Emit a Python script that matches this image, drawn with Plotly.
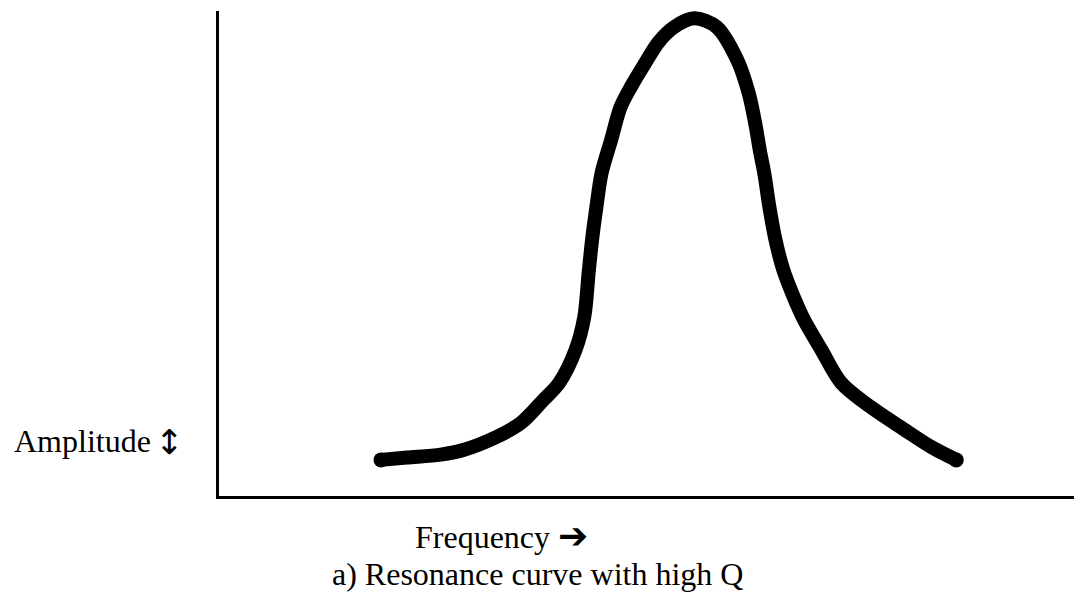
import plotly.graph_objects as go

# Resonance curve (frequency in arbitrary units, amplitude in arbitrary units)
frequency = [1.85, 2.15, 2.54, 2.81, 3.19, 3.47, 3.73, 3.91, 4.10, 4.20, 4.25, 4.29, 4.34,
             4.40, 4.51, 4.62, 4.75, 4.89, 5.06, 5.24, 5.47, 5.73, 5.97, 6.10, 6.18, 6.23,
             6.28, 6.34, 6.41, 6.50, 6.61, 6.74, 6.94, 7.17, 7.51, 7.90, 8.21, 8.50]
amplitude = [0.68, 0.73, 0.79, 0.89, 1.16, 1.45, 1.93, 2.28, 2.97, 3.65, 4.56, 5.25, 5.93,
             6.64, 7.32, 8.01, 8.46, 8.88, 9.36, 9.67, 9.85, 9.67, 8.98, 8.30, 7.63, 7.10,
             6.64, 5.93, 5.25, 4.63, 4.11, 3.59, 2.97, 2.28, 1.78, 1.31, 0.95, 0.68]

y_label = "Amplitude"
y_arrow = "↕"
x_label = "Frequency"
x_arrow = "➔"
caption = "a) Resonance curve with high Q"

fig = go.Figure()
fig.add_trace(go.Scatter(
    x=frequency, y=amplitude, mode="lines",
    line=dict(color="black", width=14, shape="spline", smoothing=0.9),
    hoverinfo="skip", showlegend=False,
))
# round end caps
fig.add_trace(go.Scatter(
    x=[frequency[0], frequency[-1]], y=[amplitude[0], amplitude[-1]], mode="markers",
    marker=dict(color="black", size=15), hoverinfo="skip", showlegend=False,
))

FONT = "Liberation Serif, Times New Roman, serif"

# page body has an 8px margin: figure is sized so it fills the window exactly
W, H = 1074, 586
L, T, B = 211, 3, 97.5
pw, ph = W - L, H - T - B


def px(sx):
    return (sx - 8 - L) / pw


def py(sy):
    return (H - B - (sy - 8)) / ph


x_text = (x_label + " <span style='font-family:DejaVu Sans;font-size:36px'>"
          + x_arrow + "</span>")

fig.update_layout(
    width=W, height=H,
    margin=dict(l=L, r=0, t=T, b=B, pad=0),
    paper_bgcolor="white", plot_bgcolor="white",
    xaxis=dict(range=[-0.023, -0.023 + pw / 86.5], showgrid=False, zeroline=False,
               showticklabels=False, ticks="", showline=True, linecolor="black",
               linewidth=3, mirror=False, fixedrange=True),
    yaxis=dict(range=[-0.07, -0.07 + ph / 48.2], showgrid=False, zeroline=False,
               showticklabels=False, ticks="", showline=True, linecolor="black",
               linewidth=3, mirror=False, fixedrange=True),
    annotations=[
        dict(text=y_label, xref="paper", yref="paper", x=px(12), y=py(441),
             xanchor="left", yanchor="middle", showarrow=False,
             font=dict(family=FONT, size=32, color="black")),
        dict(text=y_arrow, xref="paper", yref="paper", x=px(169), y=py(442),
             xanchor="center", yanchor="middle", showarrow=False,
             font=dict(family="DejaVu Sans", size=34, color="black")),
        dict(text=x_text, xref="paper", yref="paper", x=px(413), y=py(536),
             xanchor="left", yanchor="middle", showarrow=False,
             font=dict(family=FONT, size=32, color="black")),
        dict(text=caption, xref="paper", yref="paper", x=px(330), y=py(575),
             xanchor="left", yanchor="middle", showarrow=False,
             font=dict(family=FONT, size=32, color="black")),
    ],
)

fig.write_html("out.html", config={"displayModeBar": False})
